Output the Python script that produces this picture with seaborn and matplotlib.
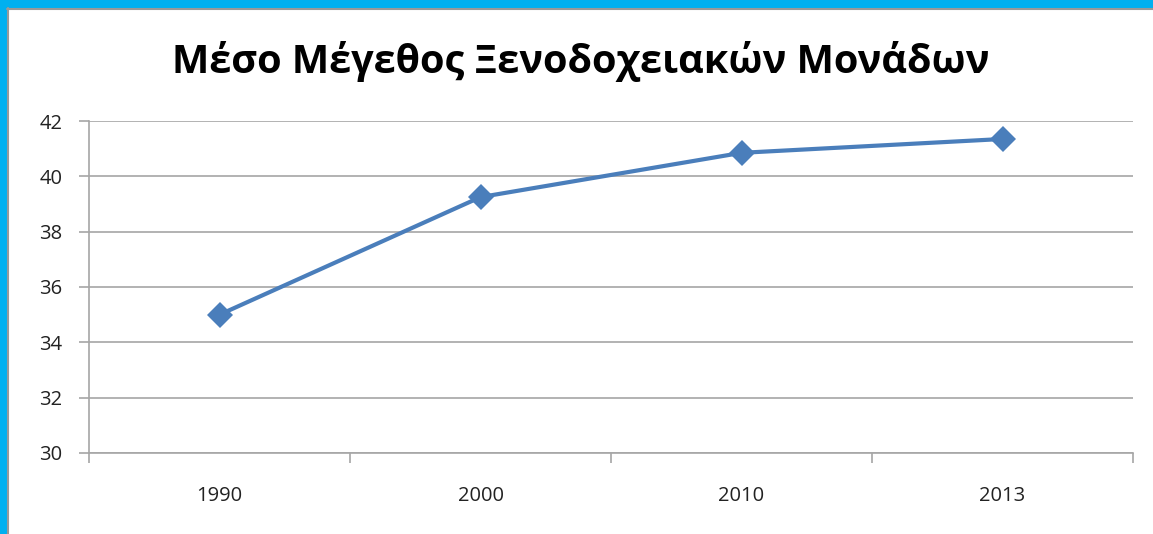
import matplotlib
matplotlib.use("Agg")
import matplotlib.pyplot as plt
import matplotlib.patches as mpatches
from matplotlib.ticker import FixedLocator
import pandas as pd
import seaborn as sns

# Data
years = ["1990", "2000", "2010", "2013"]
avg_size = [35.0, 39.25, 40.85, 41.35]
y_ticks = [30, 32, 34, 36, 38, 40, 42]
title = "Μέσο Μέγεθος Ξενοδοχειακών Μονάδων"

df = pd.DataFrame({"year": years, "size": avg_size})

sns.set_style("white")
plt.rcParams["font.family"] = ["Open Sans", "DejaVu Sans"]

fig = plt.figure(figsize=(11.53, 5.34), dpi=100)
ax = fig.add_axes([0.0772, 0.1517, 0.9055, 0.6217])

sns.lineplot(data=df, x="year", y="size", ax=ax, color="#4A7EBB",
             linewidth=3.0, marker="D", markersize=13, markeredgewidth=0)

ax.set_xlim(-0.5, len(years) - 0.5)
ax.set_ylim(y_ticks[0], y_ticks[-1])
ax.set_yticks(y_ticks)
ax.grid(axis="y", color="#A6A6A6", linewidth=1.2)
ax.set_axisbelow(True)

# category labels at centers, tick marks at the boundaries
ax.xaxis.set_major_locator(FixedLocator([i - 0.5 for i in range(len(years) + 1)]))
ax.xaxis.set_minor_locator(FixedLocator(range(len(years))))
ax.set_xticklabels([], minor=False)
ax.set_xticklabels(years, minor=True)
ax.tick_params(axis="x", which="major", bottom=True, length=7, color="#A6A6A6", width=1.2)
ax.tick_params(axis="x", which="minor", bottom=True, length=0, pad=24, labelsize=14.5, labelcolor="#222222")
ax.tick_params(axis="y", left=True, length=7, color="#A6A6A6", width=1.2, pad=12, labelsize=14.5, labelcolor="#222222")

for side in ["top", "right"]:
    ax.spines[side].set_visible(False)
for side in ["left", "bottom"]:
    ax.spines[side].set_color("#A6A6A6")
    ax.spines[side].set_linewidth(1.2)

ax.set_xlabel("")
ax.set_ylabel("")

fig.text(0.504, 0.885, title, ha="center", va="center", fontsize=28.5, fontweight="bold", color="#000000")

# slide frame: blue band on top and left
fig.patches.append(mpatches.Rectangle((0, 1 - 8 / 534), 1, 8 / 534, transform=fig.transFigure, color="#00B0F0", zorder=0))
fig.patches.append(mpatches.Rectangle((0, 0), 7 / 1153, 1, transform=fig.transFigure, color="#00B0F0", zorder=0))
fig.add_artist(plt.Line2D([7 / 1153, 1], [1 - 9 / 534, 1 - 9 / 534], transform=fig.transFigure, color="#999999", linewidth=1.5))
fig.add_artist(plt.Line2D([8 / 1153, 8 / 1153], [0, 1 - 8 / 534], transform=fig.transFigure, color="#999999", linewidth=1.5))

fig.savefig("out.png", dpi=100)
